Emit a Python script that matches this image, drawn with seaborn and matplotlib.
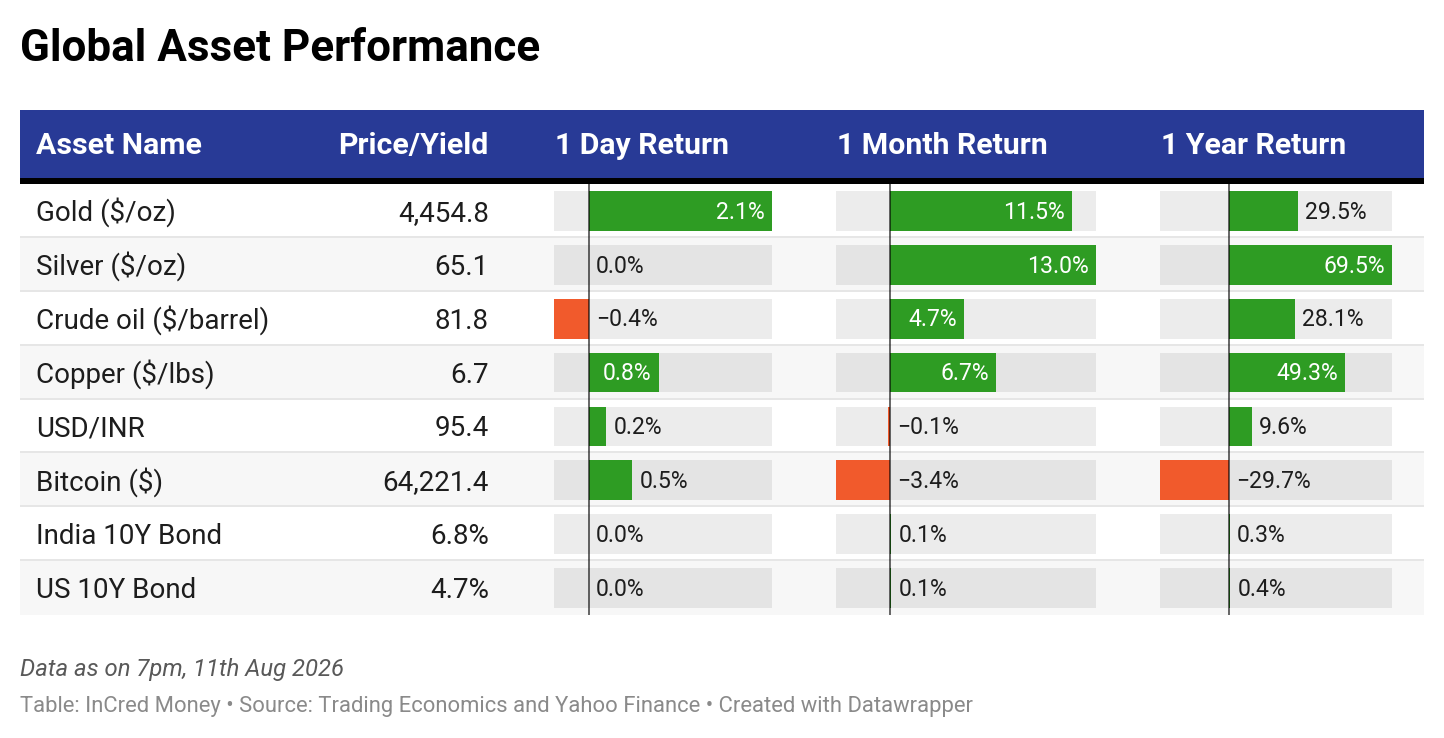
import numpy as np
import pandas as pd
import matplotlib
matplotlib.use("Agg")
import matplotlib.pyplot as plt
from matplotlib.patches import Rectangle
from matplotlib.font_manager import FontProperties
import seaborn as sns

# Table data
assets = ["Gold ($/oz)", "Silver ($/oz)", "Crude oil ($/barrel)", "Copper ($/lbs)",
          "USD/INR", "Bitcoin ($)", "India 10Y Bond", "US 10Y Bond"]
prices = ["4,454.8", "65.1", "81.8", "6.7", "95.4", "64,221.4", "6.8%", "4.7%"]
day_ret = [2.1, 0.0, -0.4, 0.8, 0.2, 0.5, 0.0, 0.0]
month_ret = [11.5, 13.0, 4.7, 6.7, -0.1, -3.4, 0.1, 0.1]
year_ret = [29.5, 69.5, 28.1, 49.3, 9.6, -29.7, 0.3, 0.4]
headers = ["Asset Name", "Price/Yield", "1 Day Return", "1 Month Return", "1 Year Return"]

title = "Global Asset Performance"
note = "Data as on 7pm, 11th Aug 2026"
source = "Table: InCred Money \u2022 Source: Trading Economics and Yahoo Finance \u2022 Created with Datawrapper"

# Colours
BLUE = "#283a96"
GREEN = "#2e9c23"
ORANGE = "#f15a2c"
TEXT = "#1d1d1d"

sns.set_theme(style="white")
plt.rcParams["font.family"] = ["Roboto", "DejaVu Sans"]

W, H = 1444, 738
fig = plt.figure(figsize=(W / 100, H / 100), dpi=100)
fig.patch.set_facecolor("white")

# background axes in pixel units for the table frame
bg = fig.add_axes([0, 0, 1, 1])
bg.set_xlim(0, W)
bg.set_ylim(H, 0)
bg.axis("off")

TOP, BOTTOM = 184, 615
n = len(assets)
row_h = (BOTTOM - TOP) / n

bg.text(20, 61, title, fontsize=31.7, fontweight="bold", color="black", va="baseline")

# header band
bg.add_patch(Rectangle((20, 110), 1404, 68, color=BLUE, lw=0))
bg.add_patch(Rectangle((20, 178), 1404, 6, color="black", lw=0))

# return column boxes (pixel extents)
cols = [(day_ret, 554, 772), (month_ret, 836, 1096), (year_ret, 1160, 1392)]

hdr_kw = dict(fontsize=21.8, fontweight="bold", color="white", va="baseline")
bg.text(36, 154, headers[0], ha="left", **hdr_kw)
bg.text(489, 154, headers[1], ha="right", **hdr_kw)
for (vals, x0, x1), h in zip(cols, headers[2:]):
    bg.text(x0 + 1, 154, h, ha="left", **hdr_kw)

# rows
for i in range(n):
    y0 = TOP + i * row_h
    if i % 2:
        bg.add_patch(Rectangle((20, y0), 1404, row_h, color="#f7f7f7", lw=0))
    if i < n - 1:
        bg.add_patch(Rectangle((20, y0 + row_h - 2), 1404, 2, color="#e6e6e6", lw=0))
    bg.text(36, y0 + 37, assets[i], fontsize=20, color=TEXT, va="baseline", ha="left")
    bg.text(489, y0 + 37, prices[i], fontsize=20, color=TEXT, va="baseline", ha="right")

# footer
bg.text(20, 676, note, fontsize=17.2, style="italic", color="#595959", va="baseline")
bg.text(20, 712, source, fontsize=15.8, color="#8a8a8a", va="baseline")

renderer = fig.canvas.get_renderer()
lab_font = FontProperties(family=["Roboto", "DejaVu Sans"], size=16.6)

# bar columns
for vals, x0, x1 in cols:
    ax = fig.add_axes([x0 / W, 1 - BOTTOM / H, (x1 - x0) / W, (BOTTOM - TOP) / H])
    lo, hi = min(0, min(vals)), max(0, max(vals))
    df = pd.DataFrame({"asset": assets, "ret": vals,
                       "sign": ["neg" if v < 0 else "pos" for v in vals]})
    sns.barplot(data=df, x="ret", y="asset", hue="sign", order=assets,
                hue_order=["pos", "neg"], palette={"pos": GREEN, "neg": ORANGE},
                orient="h", width=0.74, dodge=False, legend=False,
                saturation=1, linewidth=0, edgecolor="none", ax=ax)
    pos = np.arange(n)
    ax.barh(pos, hi - lo, left=lo, height=0.74, color="black", alpha=0.075,
            lw=0, zorder=0)
    ax.axvline(0, color="black", alpha=0.6, lw=1.4, zorder=3)
    ax.set_xlim(lo, hi)
    ax.set_ylim(n - 0.5, -0.5)
    ax.axis("off")

    px_per_unit = (x1 - x0) / (hi - lo)
    for i, v in enumerate(vals):
        lab = f"{v:.1f}%".replace("-", "\u2212")
        w, _, _ = renderer.get_text_width_height_descent(lab, lab_font, ismath=False)
        if abs(v) * px_per_unit >= w + 14 and v > 0:
            ax.annotate(lab, (v, i), xytext=(-7, -7.7), textcoords="offset pixels",
                        ha="right", va="baseline", color="white",
                        fontproperties=lab_font, zorder=4)
        else:
            ax.annotate(lab, (max(v, 0), i), xytext=(7, -7.7), textcoords="offset pixels",
                        ha="left", va="baseline", color=TEXT,
                        fontproperties=lab_font, zorder=4)

fig.savefig("out.png", dpi=100)
